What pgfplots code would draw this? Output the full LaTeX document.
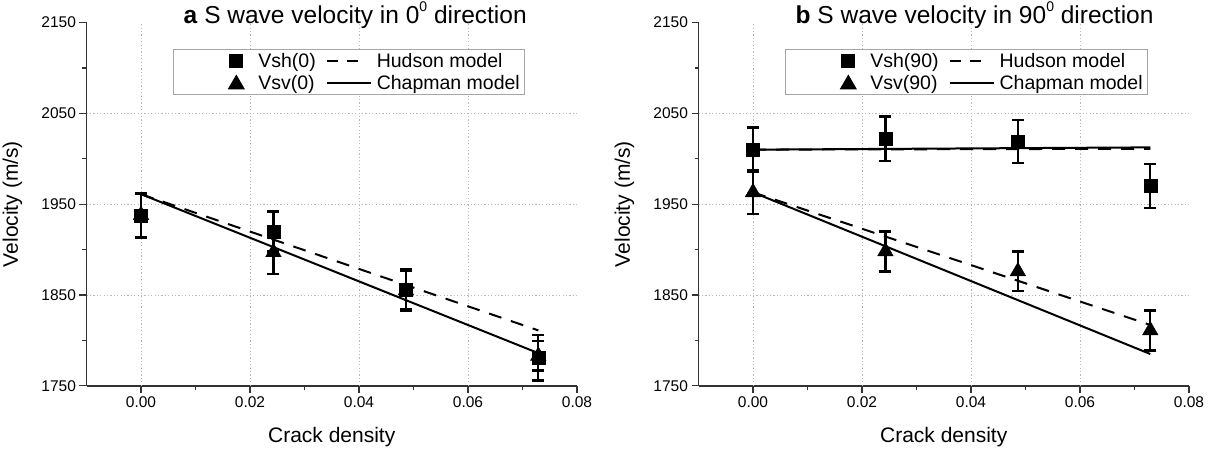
\documentclass[border=0pt]{standalone}
\usepackage{fontspec}
\setmainfont{Liberation Sans}
\usepackage{pgfplots}
\pgfplotsset{compat=1.18}

\newcommand{\supz}{\raisebox{0.52em}{\fontsize{14}{14}\selectfont 0}}

\pgfplotsset{
  panel/.style={
    scale only axis, width=490.5pt, height=363.3pt,
    xmin=-0.01, xmax=0.08, ymin=1750, ymax=2150,
    axis x line*=bottom, axis y line*=left,
    axis line style={line width=1.4pt, black!80},
    xtick={0,0.02,0.04,0.06,0.08}, ytick={1750,1850,1950,2050,2150},
    scaled x ticks=false,
    minor x tick num=1, minor y tick num=1,
    tick align=outside, major tick length=7pt, minor tick length=4pt,
    every tick/.style={line width=1.3pt, black!80},
    /pgf/number format/assume math mode=true,
    xticklabel style={/pgf/number format/fixed, /pgf/number format/fixed zerofill, /pgf/number format/precision=2},
    yticklabel style={/pgf/number format/1000 sep={}},
    tick label style={font=\fontsize{15.5}{18}\selectfont, black},
    extra x ticks={0,0.02,0.04,0.06}, extra x tick labels={},
    extra y ticks={1850,1950,2050}, extra y tick labels={},
    extra tick style={grid=major, major tick length=0pt},
    major grid style={gray!55, line width=0.9pt, dash pattern=on 1.2pt off 2.2pt},
    xlabel={Crack density}, ylabel={Velocity (m/s)},
    label style={font=\fontsize{21}{24}\selectfont},
    xlabel style={at={(axis description cs:0.5,-0.1547)}, anchor=base},
    ylabel style={at={(axis description cs:-0.1397,0.5)}, anchor=base},
    title style={at={(axis description cs:0.191,0.9795)}, anchor=base west, font=\fontsize{24.5}{28}\selectfont},
    legend columns=2,
    legend cell align=left,
    legend style={at={(axis description cs:0.176,0.927)}, anchor=north west,
      draw=gray!70, line width=1pt, inner xsep=3pt, inner ysep=3pt,
      font=\fontsize{19.5}{21}\selectfont,
      nodes={inner xsep=2pt, inner ysep=1pt},
      row sep=4pt,
      /tikz/column 2/.style={column sep=8pt}},
  },
  sqimg/.style={legend image code/.code={\path[draw=none,fill=none] (-60pt,0pt) -- (20pt,0pt);
     \draw[black, fill=black, solid] plot[mark=square*, mark size=6.5pt, only marks] coordinates {(0pt,0pt)};}},
  trimg/.style={legend image code/.code={\path[draw=none,fill=none] (-60pt,0pt) -- (20pt,0pt);
     \draw[black, fill=black, solid] plot[mark=triangle*, mark size=9pt, only marks] coordinates {(0pt,-1.5pt)};}},
  dashimg/.style={legend image code/.code={\path[draw=none,fill=none] (0pt,0pt) -- (48pt,0pt);
     \draw[black, line width=2pt, solid] (0pt,0pt) -- (11pt,0pt) (20pt,0pt) -- (31pt,0pt);}},
  solimg/.style={legend image code/.code={\path[draw=none,fill=none] (0pt,0pt) -- (48pt,0pt);
     \draw[black, line width=2pt, solid] (0pt,0pt) -- (44pt,0pt);}},
  sqdata/.style={only marks, mark=square*, mark size=6.5pt, black, forget plot,
     error bars/.cd, y dir=both, y explicit,
     error bar style={line width=2.3pt, black},
     error mark options={rotate=90, line width=2.3pt, mark size=6pt, black}},
  trdata/.style={only marks, mark=triangle*, mark size=9pt, black, forget plot,
     error bars/.cd, y dir=both, y explicit,
     error bar style={line width=2.3pt, black},
     error mark options={rotate=90, line width=2.3pt, mark size=6pt, black}},
  hud/.style={black, line width=2pt, dash pattern=on 13pt off 10pt, forget plot},
  chap/.style={black, line width=2pt, forget plot},
}

\begin{document}
\begin{tikzpicture}
\path[use as bounding box] (0pt,0pt) rectangle (1215pt,451pt);

% ---------------- panel a ----------------
\begin{axis}[panel, at={(86.5pt,65.2pt)}, anchor=south west,
  title={\textbf{a} S wave velocity in 0\supz{} direction}]
\addlegendimage{sqimg}\addlegendentry{Vsh(0)}
\addlegendimage{dashimg}\addlegendentry{Hudson model}
\addlegendimage{trimg}\addlegendentry{Vsv(0)}
\addlegendimage{solimg}\addlegendentry{Chapman model}

\addplot[hud] coordinates {(0,1961) (0.0729,1811)};
\addplot[chap] coordinates {(0,1961) (0.0729,1786)};
\addplot[trdata] coordinates {
  (0,1938) +- (0,24)
  (0.0243,1897) +- (0,24)
  (0.0486,1855) +- (0,22)
  (0.0729,1783) +- (0,16)
};
\addplot[sqdata] coordinates {
  (0,1937) +- (0,24)
  (0.0243,1920) +- (0,22)
  (0.0486,1856) +- (0,22)
  (0.0729,1781) +- (0,25)
};
\end{axis}

% ---------------- panel b ----------------
\begin{axis}[panel, at={(698.5pt,65.2pt)}, anchor=south west,
  title={\textbf{b} S wave velocity in 90\supz{} direction}]
\addlegendimage{sqimg}\addlegendentry{Vsh(90)}
\addlegendimage{dashimg}\addlegendentry{Hudson model}
\addlegendimage{trimg}\addlegendentry{Vsv(90)}
\addlegendimage{solimg}\addlegendentry{Chapman model}

\addplot[hud] coordinates {(0,2010) (0.0729,2011)};
\addplot[chap] coordinates {(0,2010) (0.0729,2012.5)};
\addplot[hud] coordinates {(0,1963) (0.0729,1817)};
\addplot[chap] coordinates {(0,1963) (0.0729,1785)};
\addplot[trdata] coordinates {
  (0,1963) +- (0,24)
  (0.0243,1898) +- (0,22)
  (0.0486,1876) +- (0,22)
  (0.0729,1811) +- (0,22)
};
\addplot[sqdata] coordinates {
  (0,2010) +- (0,24.5)
  (0.0243,2022) +- (0,24.5)
  (0.0486,2019) +- (0,24)
  (0.0729,1970) +- (0,24)
};
\end{axis}
\end{tikzpicture}
\end{document}
